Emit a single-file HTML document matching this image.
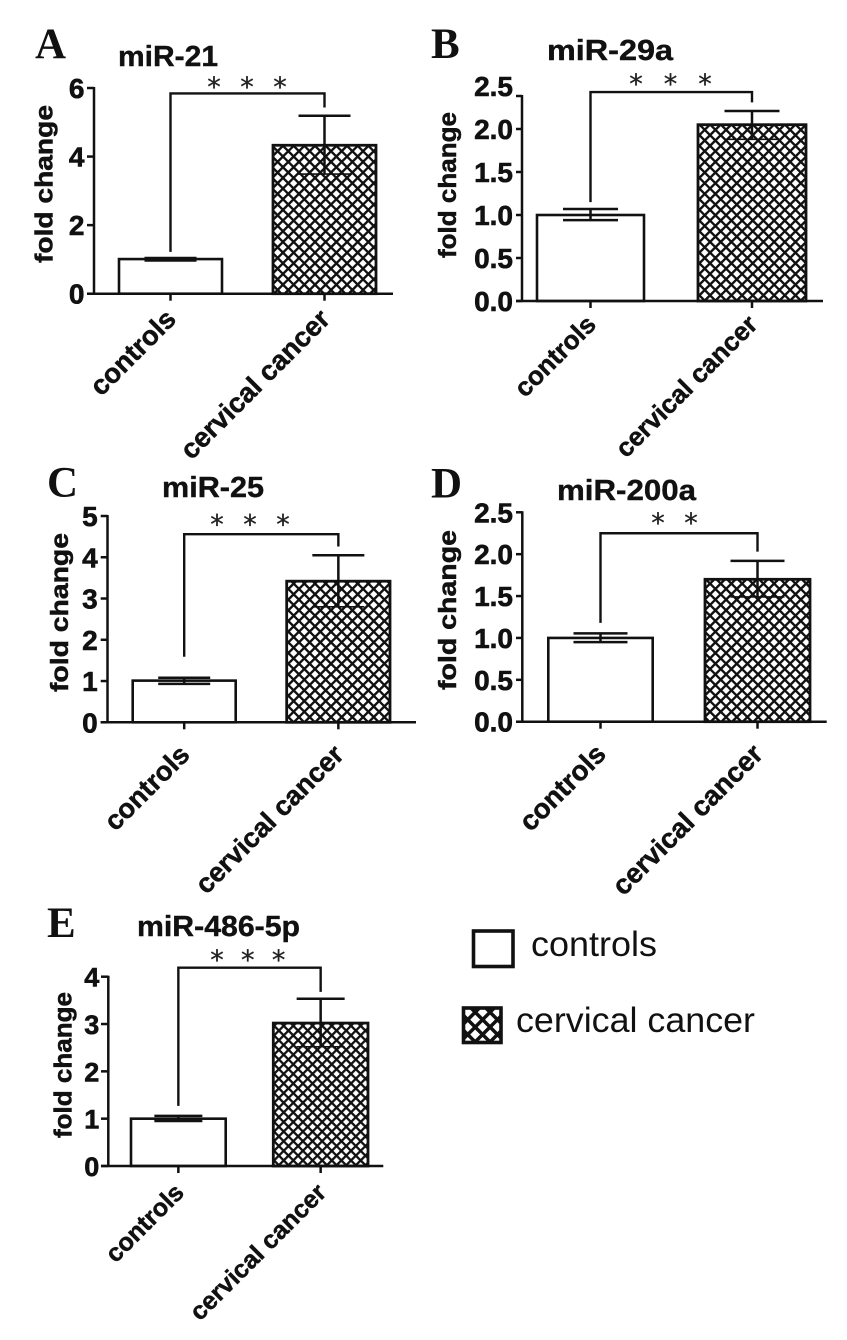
<!DOCTYPE html>
<html lang="en">
<head>
<meta charset="utf-8">
<title>Fold change of miRNAs in controls and cervical cancer</title>
<style>
html,body{margin:0;padding:0;background:#fff;}
body{width:847px;height:1340px;overflow:hidden;}
svg{display:block;}
text{fill:#111;}
</style>
</head>
<body>
<svg id="figure" xmlns="http://www.w3.org/2000/svg" width="847" height="1340" viewBox="0 0 847 1340">
  <defs>
    <pattern id="hatch" patternUnits="userSpaceOnUse" width="7.55" height="7.55" patternTransform="rotate(45)">
      <rect width="7.55" height="7.55" fill="#fff"/>
      <path d="M0 0H7.55M0 0V7.55" stroke="#111" stroke-width="4.8" fill="none"/>
    </pattern>
    <pattern id="hatch-small" patternUnits="userSpaceOnUse" width="6.8" height="6.8" patternTransform="rotate(45)">
      <rect width="6.8" height="6.8" fill="#fff"/>
      <path d="M0 0H6.8M0 0V6.8" stroke="#111" stroke-width="4.6" fill="none"/>
    </pattern>
    <pattern id="hatch-legend" patternUnits="userSpaceOnUse" width="10.5" height="10.5" patternTransform="rotate(45)">
      <rect width="10.5" height="10.5" fill="#fff"/>
      <path d="M0 0H10.5M0 0V10.5" stroke="#111" stroke-width="7" fill="none"/>
    </pattern>
  </defs>
  <g>
    <rect x="473.5" y="931" width="39.5" height="35.5" fill="#fff" stroke="#111" stroke-width="3.6"/>
    <text x="531" y="956" font-family="'Liberation Sans',sans-serif" font-size="35" textLength="126" lengthAdjust="spacingAndGlyphs">controls</text>
    <rect x="463.5" y="1008" width="37.5" height="34.5" fill="url(#hatch-legend)" stroke="#111" stroke-width="3.6"/>
    <text x="516" y="1032" font-family="'Liberation Sans',sans-serif" font-size="35" textLength="239" lengthAdjust="spacingAndGlyphs">cervical cancer</text>
  </g>
</svg>
<script>
// Chart data
const panelLetters = ['A', 'B', 'C', 'D', 'E'];
const panelTitles = ['miR-21', 'miR-29a', 'miR-25', 'miR-200a', 'miR-486-5p'];
const categories = ['controls', 'cervical cancer'];
const yAxisTitle = 'fold change';
const domainMax = [6, 2.5, 5, 2.5, 4];
const tickValues = [
  [0, 2, 4, 6],
  [0, 0.5, 1, 1.5, 2, 2.5],
  [0, 1, 2, 3, 4, 5],
  [0, 0.5, 1, 1.5, 2, 2.5],
  [0, 1, 2, 3, 4]
];
const tickLabels = [
  ['0', '2', '4', '6'],
  ['0.0', '0.5', '1.0', '1.5', '2.0', '2.5'],
  ['0', '1', '2', '3', '4', '5'],
  ['0.0', '0.5', '1.0', '1.5', '2.0', '2.5'],
  ['0', '1', '2', '3', '4']
];
const controlMeans = [1.01, 1.0, 1.01, 1.0, 1.0];
const controlUpper = [1.04, 1.07, 1.08, 1.055, 1.06];
const controlLower = [0.97, 0.94, 0.93, 0.95, 0.95];
const cancerMeans = [4.33, 2.05, 3.42, 1.70, 3.02];
const cancerUpper = [5.19, 2.21, 4.05, 1.92, 3.535];
const cancerLower = [3.49, 1.88, 2.80, 1.49, 2.52];
const bracketLevel = [5.84, 2.43, 4.56, 2.25, 4.19];
const bracketLeftEnd = [1.22, 1.15, 1.59, 1.18, 1.27];
const bracketRightEnd = [5.43, 2.31, 4.26, 2.03, 3.68];
const significanceStars = [3, 3, 3, 2, 3];

// Panel layout (pixels), independent from the data
const frames = [
  {lx:35, ly:58, tx:118, ty:66, tw:100, ax:94, top:88, axTop:88, y0:293.7, xs:87, xe:393, b1:[119,222], b2:[273,376], cap:26, tr:83.5, ybx:52.5, yc:184, yl:158, ld:27, sx:214, ss:33, sy:83, hatch:'hatch', fs:28, cf:27.4},
  {lx:431, ly:58, tx:547, ty:60, tw:126, ax:522, top:86, axTop:96, y0:301, xs:516, xe:823, b1:[537,644], b2:[698,806], cap:27.5, tr:512, ybx:456, yc:185, yl:146, ld:25, sx:636, ss:34.5, sy:80, hatch:'hatch', fs:28, cf:26},
  {lx:47, ly:496.7, tx:162, ty:497, tw:102, ax:107.5, top:516, axTop:516, y0:722.3, xs:100.7, xe:416, b1:[132.7,235.7], b2:[286.7,390], cap:26, tr:96.7, ybx:68, yc:612.5, yl:159, ld:34, sx:217, ss:33, sy:520.7, hatch:'hatch', fs:28, cf:27.2},
  {lx:431, ly:497.7, tx:557, ty:500, tw:139, ax:522.3, top:512.3, axTop:512.3, y0:721.7, xs:516, xe:826.7, b1:[548.3,652.7], b2:[705,810], cap:27, tr:512, ybx:456, yc:610, yl:160, ld:34, sx:658, ss:33, sy:519, hatch:'hatch', fs:28, cf:27.6},
  {lx:47, ly:937, tx:137, ty:936, tw:163, ax:108.3, top:976.7, axTop:976.7, y0:1166, xs:101, xe:383.3, b1:[131,225.7], b2:[273.3,368], cap:24, tr:98.3, ybx:71.5, yc:1065, yl:146, ld:28, sx:217, ss:30.8, sy:956, hatch:'hatch-small', fs:27, cf:25}
];

const NS = 'http://www.w3.org/2000/svg';
const INK = '#111';
const svg = document.getElementById('figure');

function node(tag, attrs, parent, txt) {
  const n = document.createElementNS(NS, tag);
  for (const k in attrs) n.setAttribute(k, attrs[k]);
  if (txt !== undefined) n.textContent = txt;
  parent.appendChild(n);
  return n;
}
function seg(parent, x1, y1, x2, y2, w) {
  return node('line', {x1: x1, y1: y1, x2: x2, y2: y2, stroke: INK, 'stroke-width': w || 2.5}, parent);
}

panelTitles.forEach(function (title, p) {
  const f = frames[p];
  const yScale = function (v) { return f.y0 - (v / domainMax[p]) * (f.y0 - f.top); };
  const xScale = function (i) { const b = i === 0 ? f.b1 : f.b2; return (b[0] + b[1]) / 2; };

  const g = node('g', {}, svg);
  
  

  const letter = node('text', {x: f.lx, y: f.ly, 'font-family': "'Liberation Serif',serif", 'font-weight': 'bold', 'font-size': 43}, g, panelLetters[p]);
  
  

  const heading = node('text', {x: f.tx, y: f.ty, 'font-family': "'Liberation Sans',sans-serif", 'font-weight': 'bold', 'font-size': 29, stroke: INK, 'stroke-width': 0.4, textLength: f.tw, lengthAdjust: 'spacingAndGlyphs'}, g, title);
  
  

  const yTitle = node('text', {transform: 'translate(' + f.ybx + ',' + f.yc + ') rotate(-90)', 'text-anchor': 'middle', 'font-family': "'Liberation Sans',sans-serif", 'font-weight': 'bold', 'font-size': 25, stroke: INK, 'stroke-width': 0.5, textLength: f.yl, lengthAdjust: 'spacingAndGlyphs'}, g, yAxisTitle);
  
  

  // bars
  const barControl = node('rect', {x: f.b1[0], y: yScale(controlMeans[p]), width: f.b1[1] - f.b1[0], height: yScale(0) - yScale(controlMeans[p]), fill: '#fff', stroke: INK, 'stroke-width': 2.6}, g);
  
  

  const barCancer = node('rect', {x: f.b2[0], y: yScale(cancerMeans[p]), width: f.b2[1] - f.b2[0], height: yScale(0) - yScale(cancerMeans[p]), fill: 'url(#' + f.hatch + ')', stroke: INK, 'stroke-width': 2.8}, g);
  
  

  // error bars
  const errStem1 = seg(g, xScale(0), yScale(controlUpper[p]), xScale(0), yScale(controlLower[p]));
  
  
  const errTop1 = seg(g, xScale(0) - f.cap, yScale(controlUpper[p]), xScale(0) + f.cap, yScale(controlUpper[p]));
  
  
  const errBot1 = seg(g, xScale(0) - f.cap, yScale(controlLower[p]), xScale(0) + f.cap, yScale(controlLower[p]));
  
  

  const errStem2 = seg(g, xScale(1), yScale(cancerUpper[p]), xScale(1), yScale(cancerLower[p]));
  
  
  const errTop2 = seg(g, xScale(1) - f.cap, yScale(cancerUpper[p]), xScale(1) + f.cap, yScale(cancerUpper[p]));
  
  
  const errBot2 = seg(g, xScale(1) - f.cap, yScale(cancerLower[p]), xScale(1) + f.cap, yScale(cancerLower[p]), 1.6);
  
  

  // axes
  const yAxis = seg(g, f.ax, f.axTop - 1, f.ax, f.y0 + 1);
  
  
  const xAxis = seg(g, f.xs, f.y0, f.xe, f.y0);
  
  

  tickValues[p].forEach(function (v, i) {
    const y = yScale(v);
    const tick = seg(g, f.xs, Math.max(y, f.axTop), f.ax, Math.max(y, f.axTop));
    
    
    const label = node('text', {x: f.tr + 1, y: y + 10, 'text-anchor': 'end', 'font-family': "'Liberation Sans',sans-serif", 'font-weight': 'bold', 'font-size': f.fs, stroke: INK, 'stroke-width': 0.6}, g, tickLabels[p][i]);
    
    
  });

  categories.forEach(function (c, i) {
    const cx = xScale(i);
    const tick = seg(g, cx, f.y0, cx, f.y0 + 7);
    
    
    const label = node('text', {transform: 'translate(' + (cx + 7) + ',' + (f.y0 + f.ld) + ') rotate(-45)', 'text-anchor': 'end', 'font-family': "'Liberation Sans',sans-serif", 'font-weight': 'bold', 'font-size': f.cf, stroke: INK, 'stroke-width': 0.5}, g, c);
    
    
  });

  // significance bracket
  const yb = yScale(bracketLevel[p]);
  const bracket = node('path', {d: 'M' + xScale(0) + ' ' + yScale(bracketLeftEnd[p]) + 'V' + yb + 'H' + xScale(1) + 'V' + yScale(bracketRightEnd[p]), fill: 'none', stroke: INK, 'stroke-width': 2.4}, g);
  
  

  for (let s = 0; s < significanceStars[p]; s++) {
    const star = node('text', {x: f.sx + s * f.ss, y: f.sy + 13, 'text-anchor': 'middle', 'font-family': "'DejaVu Sans',sans-serif", 'font-size': 27, stroke: '#222', 'stroke-width': 0.3, style: 'fill:#222'}, g, '*');
    
    
  }
});
</script>
</body>
</html>
